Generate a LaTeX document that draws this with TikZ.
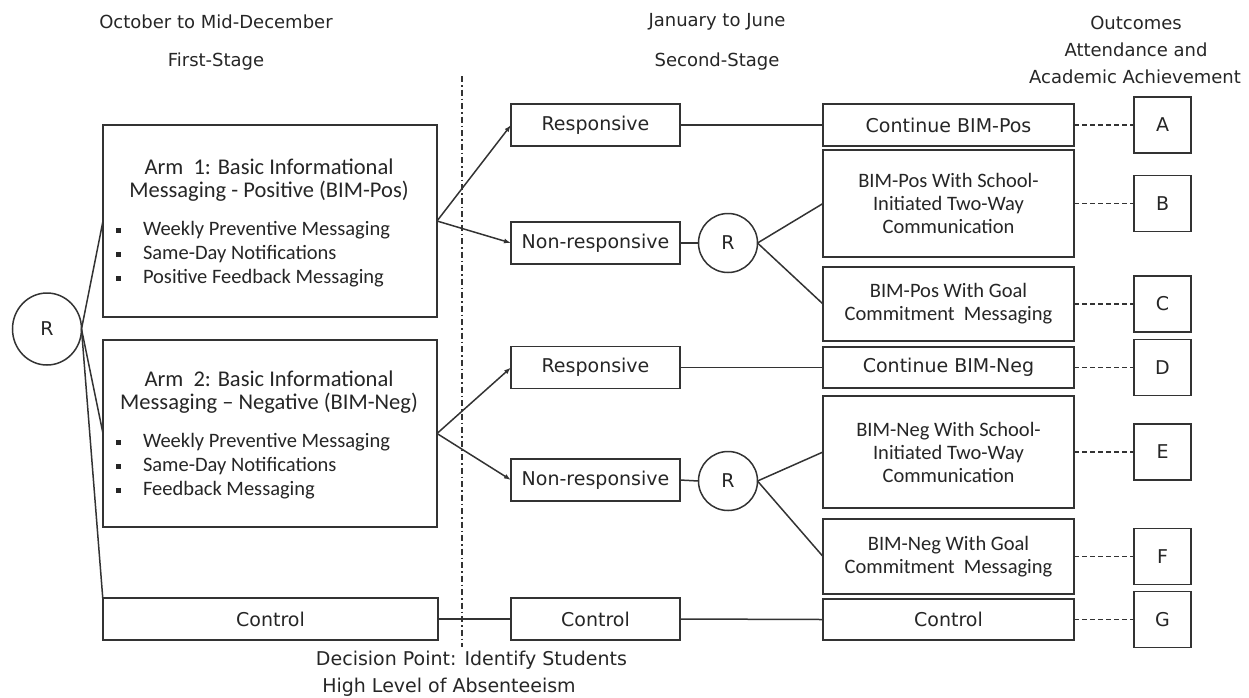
\documentclass[tikz,border=0pt]{standalone}
\usepackage{fontspec}
\setmainfont{Carlito}
\newfontfamily\hdr{DejaVu Sans}
\usetikzlibrary{arrows.meta,calc,shapes.geometric}
\begin{document}
\begin{tikzpicture}[x=1pt,y=-1pt,
  every node/.style={text=black!85, inner sep=0pt, outer sep=0pt},
  ln/.style={draw=black!80, line width=1.5pt},
  box/.style={ln, rectangle, fill=white, align=center},
  cal/.style={font=\fontsize{20.5}{23}\selectfont},
  ttl/.style={font=\fontsize{22.5}{23}\selectfont},
  tah/.style={font=\hdr\fontsize{19}{23}\selectfont},
  head/.style={font=\hdr\fontsize{18}{22}\selectfont},
  midbox/.style={box, tah, minimum width=169pt, minimum height=42pt},
  rbox/.style={box, cal, minimum width=251pt},
  obox/.style={box, tah, minimum width=57pt, minimum height=56pt},
  rnd/.style={ln, circle, minimum size=59pt, tah, fill=white},
  arr/.style={ln, -{Latex[length=7pt,width=5pt]}},
  dsh/.style={ln, dash pattern=on 5pt off 3pt},
  dashdot/.style={ln, line width=1.2pt, dash pattern=on 6pt off 3pt on 1.5pt off 3pt}
]
\useasboundingbox (0,0) rectangle (1249,697);

% headers
\node[head] (h1) at (216,22) {October to Mid-December};
\node[head] (h2) at (216,62) {First-Stage};
\node[head] (h3) at (717,22) {January to June};
\node[head] (h4) at (717,62) {Second-Stage};
\node[head] (h5) at (1136,23) {Outcomes};
\node[head] (h6) at (1136,50) {Attendance and};
\node[head] (h7) at (1135,77) {Academic Achievement};

% decision line
\coordinate (dtop) at (462,76);
\coordinate (dbot) at (462,647);
\draw[dashdot] (dtop) -- (dbot);
\node[tah] (dp1) at (471.5,660) {Decision Point: Identify Students};
\node[tah] (dp2) at (449,687) {High Level of Absenteeism};

% left column
\node[ln, ellipse, minimum width=69pt, minimum height=72pt, tah] (r0) at (47,329) {R};
\node[box, minimum width=334pt, minimum height=192pt] (arm1) at (270,221) {};
\node[box, minimum width=334pt, minimum height=187pt] (arm2) at (270,433.5) {};
\node[box, tah, minimum width=335pt, minimum height=42pt] (ctl1) at (270.5,619) {Control};

\node[ttl, align=center] (a1t) at (269,180) {Arm~~1: Basic Informational\\Messaging - Positive (BIM-Pos)};
\node[cal, align=left, anchor=west, font=\fontsize{20.5}{24}\selectfont] (a1b) at (116,254) {%
\makebox[27pt][l]{\rule[2.7pt]{4.5pt}{4.5pt}}Weekly Preventive Messaging\\
\makebox[27pt][l]{\rule[2.7pt]{4.5pt}{4.5pt}}Same-Day Notifications\\
\makebox[27pt][l]{\rule[2.7pt]{4.5pt}{4.5pt}}Positive Feedback Messaging};

\node[ttl, align=center] (a2t) at (269,392) {Arm~~2: Basic Informational\\Messaging -- Negative (BIM-Neg)};
\node[cal, align=left, anchor=west, font=\fontsize{20.5}{24}\selectfont] (a2b) at (116,466) {%
\makebox[27pt][l]{\rule[2.7pt]{4.5pt}{4.5pt}}Weekly Preventive Messaging\\
\makebox[27pt][l]{\rule[2.7pt]{4.5pt}{4.5pt}}Same-Day Notifications\\
\makebox[27pt][l]{\rule[2.7pt]{4.5pt}{4.5pt}}Feedback Messaging};

% middle column
\node[midbox] (resp1) at (595.5,125) {Responsive};
\node[midbox] (nres1) at (595.5,243) {Non-responsive};
\node[midbox] (resp2) at (595.5,367.5) {Responsive};
\node[midbox] (nres2) at (595.5,480) {Non-responsive};
\node[midbox] (ctl2) at (595.5,619) {Control};
\node[rnd] (r1) at (728,243) {R};
\node[rnd] (r2) at (728,481) {R};

% right column
\node[rbox, tah, minimum height=42pt] (cpos) at (948.5,125) {Continue BIM-Pos};
\node[rbox, minimum height=107pt] (psch) at (948.5,203.5) {BIM-Pos With School-\\Initiated Two-Way\\Communication};
\node[rbox, minimum height=74pt] (pgoal) at (948.5,304) {BIM-Pos With Goal\\Commitment~~Messaging};
\node[rbox, tah, minimum height=41pt] (cneg) at (948.5,367.5) {Continue BIM-Neg};
\node[rbox, minimum height=112pt] (nsch) at (948.5,452) {BIM-Neg With School-\\Initiated Two-Way\\Communication};
\node[rbox, minimum height=75pt] (ngoal) at (948.5,556.5) {BIM-Neg With Goal\\Commitment~~Messaging};
\node[rbox, tah, minimum height=41pt] (ctl3) at (948.5,619.5) {Control};

% outcomes
\node[obox] (oA) at (1162.5,125) {A};
\node[obox] (oB) at (1162.5,203.5) {B};
\node[obox] (oC) at (1162.5,304) {C};
\node[obox] (oD) at (1162.5,367.5) {D};
\node[obox] (oE) at (1162.5,452) {E};
\node[obox] (oF) at (1162.5,556.5) {F};
\node[obox] (oG) at (1162.5,619.5) {G};

% connectors
\draw[ln] (r0.east) -- (arm1.west);
\draw[ln] (r0.east) -- (arm2.west);
\draw[ln] (r0.east) -- ($(ctl1.north west)+(0,3)$);

\draw[arr] (arm1.east) -- (resp1.west);
\draw[arr] (arm1.east) -- (nres1.west);
\draw[arr] (arm2.east) -- (resp2.west);
\draw[arr] (arm2.east) -- (nres2.west);

\draw[ln] (resp1.east) -- (cpos.west);
\draw[ln] (nres1.east) -- (r1.west);
\draw[ln] (r1.east) -- (psch.west);
\draw[ln] (r1.east) -- (pgoal.west);
\draw[ln] (resp2.east) -- (cneg.west);
\draw[ln] (nres2.east) -- (r2.west);
\draw[ln] (r2.east) -- (nsch.west);
\draw[ln] (r2.east) -- (ngoal.west);
\draw[ln] (ctl1.east) -- (ctl2.west);
\draw[ln] (ctl2.east) -- (ctl3.west);

\draw[dsh] (cpos.east) -- (oA.west);
\draw[dsh] (psch.east) -- (oB.west);
\draw[dsh] (pgoal.east) -- (oC.west);
\draw[dsh] (cneg.east) -- (oD.west);
\draw[dsh] (nsch.east) -- (oE.west);
\draw[dsh] (ngoal.east) -- (oF.west);
\draw[dsh] (ctl3.east) -- (oG.west);
\end{tikzpicture}
\end{document}
